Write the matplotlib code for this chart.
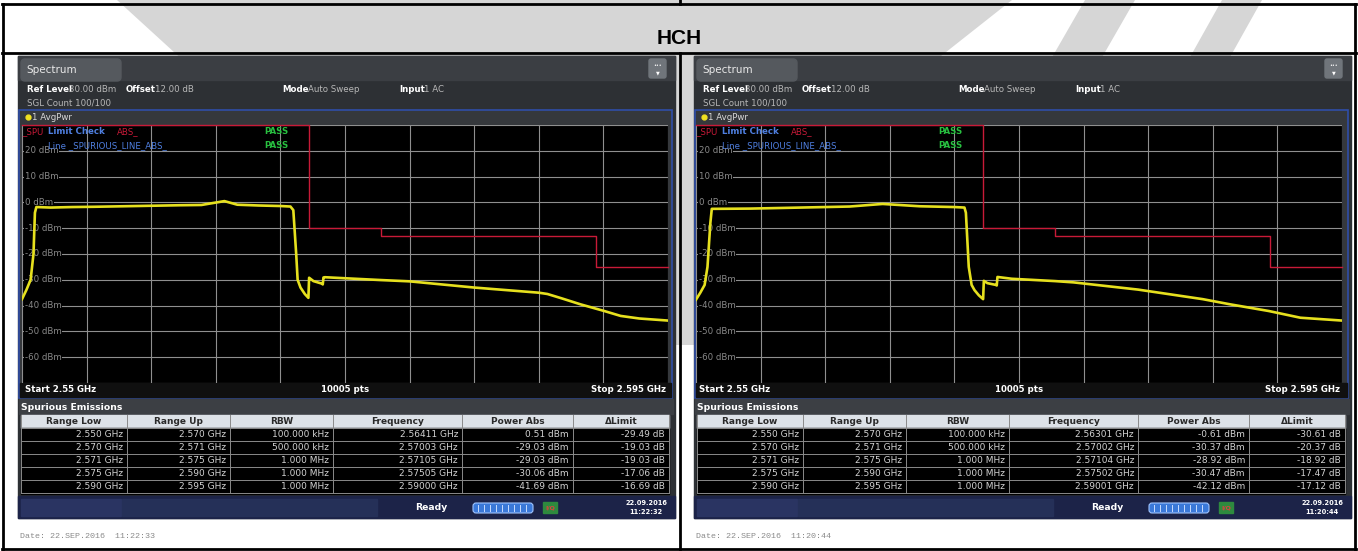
import numpy as np
import matplotlib.pyplot as plt
from matplotlib.patches import Rectangle, Polygon, FancyBboxPatch

W, H = 1358, 551

f_start, f_stop = 2.550, 2.595
ref_level, bottom_level = 30, -70

limit_freq = [2.550, 2.570, 2.575, 2.590, 2.595]
limit_level = [30, -10, -13, -25, -25]

freq_left = [2.5500, 2.5503, 2.5506, 2.5508, 2.5509, 2.5510, 2.5520, 2.5535, 2.5550,
             2.5570, 2.5590, 2.5610, 2.5625, 2.5641, 2.5650, 2.5665, 2.5680, 2.5687,
             2.5689, 2.5691, 2.5692, 2.5694, 2.5697, 2.56995, 2.5700, 2.5703, 2.5709,
             2.57095, 2.5710, 2.5711, 2.5725, 2.5750, 2.5770, 2.5815, 2.5860, 2.5866,
             2.5876, 2.5889, 2.5905, 2.5917, 2.5930, 2.5950]
level_left = [-37.5, -34, -30, -20, -4, -1.8, -2.0, -1.8, -1.7,
              -1.5, -1.3, -1.1, -1.0, 0.5, -0.9, -1.2, -1.4, -1.6,
              -3, -20, -30, -33, -35.5, -37, -29.2, -30.5, -31.5,
              -31.8, -29.1, -29.0, -29.4, -30.1, -30.6, -33.0, -35.0, -35.5,
              -37.2, -39.5, -42.0, -44.0, -45.0, -45.8]

freq_right = [2.5500, 2.5503, 2.5506, 2.5508, 2.5510, 2.5511, 2.5538, 2.5573, 2.5607,
              2.5630, 2.5656, 2.5680, 2.5687, 2.5688, 2.5690, 2.5692, 2.5694, 2.5697,
              2.5700, 2.57005, 2.5703, 2.5709, 2.57095, 2.5710, 2.5720, 2.5750, 2.5763,
              2.5808, 2.5853, 2.5872, 2.5899, 2.5921, 2.5950]
level_right = [-37.7, -35, -32, -25, -8, -2.5, -2.4, -2.0, -1.6,
               -0.6, -1.5, -1.8, -2.0, -4, -25, -32, -34, -36,
               -37.5, -30.4, -31.3, -32.0, -32.2, -28.9, -29.6, -30.5, -31.0,
               -33.8, -37.5, -39.5, -42.1, -44.7, -45.8]

range_low = ['2.550 GHz', '2.570 GHz', '2.571 GHz', '2.575 GHz', '2.590 GHz']
range_up = ['2.570 GHz', '2.571 GHz', '2.575 GHz', '2.590 GHz', '2.595 GHz']
rbw = ['100.000 kHz', '500.000 kHz', '1.000 MHz', '1.000 MHz', '1.000 MHz']
peak_freq_left = ['2.56411 GHz', '2.57003 GHz', '2.57105 GHz', '2.57505 GHz', '2.59000 GHz']
power_left = ['0.51 dBm', '-29.03 dBm', '-29.03 dBm', '-30.06 dBm', '-41.69 dBm']
dlimit_left = ['-29.49 dB', '-19.03 dB', '-19.03 dB', '-17.06 dB', '-16.69 dB']
peak_freq_right = ['2.56301 GHz', '2.57002 GHz', '2.57104 GHz', '2.57502 GHz', '2.59001 GHz']
power_right = ['-0.61 dBm', '-30.37 dBm', '-28.92 dBm', '-30.47 dBm', '-42.12 dBm']
dlimit_right = ['-30.61 dB', '-20.37 dB', '-18.92 dB', '-17.47 dB', '-17.12 dB']
headers = ['Range Low', 'Range Up', 'RBW', 'Frequency', 'Power Abs', '\u0394Limit']

fig = plt.figure(figsize=(W / 100, H / 100), dpi=100)
bg = fig.add_axes([0, 0, 1, 1])
bg.set_xlim(0, W)
bg.set_ylim(H, 0)
bg.axis('off')

# watermark swoosh behind everything
wm = '#d6d6d6'
bg.add_patch(Polygon([(117, 0), (1012, 0), (860, 120), (700, 345), (640, 345), (420, 240),
                      (260, 130), (175, 53)], closed=True, color=wm, lw=0, zorder=0))
bg.add_patch(Polygon([(1085, 0), (1135, 0), (1020, 200), (970, 200)], closed=True,
                     color=wm, lw=0, zorder=0))
bg.add_patch(Polygon([(1222, 0), (1262, 0), (1150, 200), (1110, 200)], closed=True,
                     color=wm, lw=0, zorder=0))

# page frame
for y in (4, 53, 549):
    bg.plot([2, 1356], [y, y], color='black', lw=2, zorder=1)
bg.plot([3, 3], [4, 549], color='black', lw=2, zorder=1)
bg.plot([1355, 1355], [4, 549], color='black', lw=2, zorder=1)
bg.plot([680, 680], [0, 4], color='black', lw=2, zorder=1)
bg.plot([680, 680], [53, 549], color='black', lw=2, zorder=1)
bg.text(679, 38, 'HCH', fontsize=15, fontweight='bold', family='Liberation Sans',
        ha='center', va='center', zorder=2)

FS = 6.2


def panel(dx, px0, freq, level, pk_freq, pk_pow, dlim, stamp, date):
    x0, x1 = 18 + dx, 675 + dx
    z = 3
    # screen body
    bg.add_patch(Rectangle((x0, 56), x1 - x0, 462, color='#2d3034', zorder=z))
    bg.add_patch(Rectangle((x0, 56), x1 - x0, 24, color='#3b3e43', zorder=z))
    bg.add_patch(FancyBboxPatch((x0 + 3, 59), 100, 22, boxstyle='round,pad=0,rounding_size=4',
                                color='#55595e', zorder=z))
    bg.text(x0 + 8, 70, 'Spectrum', color='#e8e8e8', fontsize=7.5, va='center', zorder=z + 1)
    bg.add_patch(FancyBboxPatch((x1 - 26, 59), 17, 19, boxstyle='round,pad=0,rounding_size=2',
                                color='#70757b', zorder=z))
    bg.text(x1 - 17.5, 66, '\u2022\u2022\u2022', color='white', fontsize=3.5, ha='center',
            va='center', zorder=z + 1)
    bg.text(x1 - 17.5, 73, '\u25bc', color='white', fontsize=3.5, ha='center', va='center',
            zorder=z + 1)
    for xx, txt, bold in [(9, 'Ref Level', True), (51, '30.00 dBm', False),
                          (108, 'Offset', True), (137, '12.00 dB', False),
                          (264, 'Mode', True), (290, 'Auto Sweep', False),
                          (381, 'Input', True), (406, '1 AC', False)]:
        bg.text(x0 + xx, 89, txt, color='white' if bold else '#b8b8b8', fontsize=FS,
                fontweight='bold' if bold else 'normal', va='center', zorder=z + 1)
    bg.text(x0 + 9, 103, 'SGL Count 100/100', color='#b8b8b8', fontsize=FS, va='center',
            zorder=z + 1)
    # diagram frame
    bg.add_patch(Rectangle((x0 + 1, 110), x1 - x0 - 4, 288, facecolor='#35383c',
                           edgecolor='#2f4ea8', lw=1.2, zorder=z))
    bg.plot([x0 + 10], [117], 'o', color='#f0e020', ms=3.5, zorder=z + 1)
    bg.text(x0 + 14, 117, '1 AvgPwr', color='#d8d8d8', fontsize=FS, va='center', zorder=z + 1)
    bg.add_patch(Rectangle((x0 + 2, 383), x1 - x0 - 6, 14, color='#101010', zorder=z))
    bg.text(px0 + 3, 390, 'Start 2.55 GHz', color='white', fontsize=FS, fontweight='bold',
            va='center', zorder=z + 1)
    bg.text(px0 + 323, 390, '10005 pts', color='white', fontsize=FS, fontweight='bold',
            ha='center', va='center', zorder=z + 1)
    bg.text(px0 + 644, 390, 'Stop 2.595 GHz', color='white', fontsize=FS, fontweight='bold',
            ha='right', va='center', zorder=z + 1)

    # spectrum plot
    ax = fig.add_axes([px0 / W, 1 - 383 / H, 646 / W, 258 / H])
    ax.set_facecolor('black')
    ax.set_xlim(f_start, f_stop)
    ax.set_ylim(bottom_level, ref_level)
    ax.set_xticks(np.linspace(f_start, f_stop, 11))
    ax.set_yticks(np.arange(bottom_level, ref_level + 1, 10))
    ax.tick_params(length=0, labelbottom=False, labelleft=False)
    ax.grid(color='#8f8f8f', lw=0.8)
    for s in ax.spines.values():
        s.set_visible(False)
    for v in range(20, -61, -10):
        ax.text(f_start + 0.0002, v, f'{v} dBm', color='#8a8a8a', fontsize=FS, va='center',
                bbox=dict(facecolor='black', edgecolor='none', pad=0.5), zorder=3)
    ax.step(limit_freq, limit_level, where='post', color='#c81a38', lw=1.0, clip_on=False,
            zorder=4)
    ax.plot(freq, level, color='#e6e01e', lw=1.9, zorder=5)
    # limit check box
    ax.text(0.0, 0.975, '_SPU', transform=ax.transAxes, color='#c81a38', fontsize=FS,
            va='center', zorder=6)
    ax.text(0.04, 0.975, 'Limit Check', transform=ax.transAxes, color='#4f7fe0',
            fontsize=FS, va='center', fontweight='bold', zorder=6)
    ax.text(0.147, 0.975, 'ABS_', transform=ax.transAxes, color='#c81a38', fontsize=FS,
            va='center', zorder=6)
    ax.text(0.04, 0.92, 'Line _SPURIOUS_LINE_ABS_', transform=ax.transAxes,
            color='#4f7fe0', fontsize=FS, va='center', zorder=6)
    for yy in (0.975, 0.92):
        ax.text(0.375, yy, 'PASS', transform=ax.transAxes, color='#28c040', fontsize=FS,
                fontweight='bold', va='center', zorder=6)

    # spurious emissions table
    bg.add_patch(Rectangle((x0 + 1, 399), x1 - x0 - 3, 15, color='#3c3f44', zorder=z))
    bg.text(x0 + 3, 407, 'Spurious Emissions', color='white', fontsize=FS + 0.5,
            fontweight='bold', va='center', zorder=z + 1)
    cols = [3, 109, 212, 315, 444, 555, 651]
    bg.add_patch(Rectangle((x0 + 3, 415), 648, 13, color='#dde2e8', zorder=z))
    bg.add_patch(Rectangle((x0 + 3, 428), 648, 66, color='black', zorder=z))
    for c in cols:
        bg.plot([x0 + c, x0 + c], [415, 493], color='#8a8a8a', lw=0.7, zorder=z + 1)
    for r in range(6):
        bg.plot([x0 + 3, x0 + 651], [428 + 13 * r, 428 + 13 * r], color='#8a8a8a', lw=0.7,
                zorder=z + 1)
    for i, hd in enumerate(headers):
        bg.text(x0 + (cols[i] + cols[i + 1]) / 2, 421.5, hd, color='#2a2a2a', fontsize=FS + 0.3,
                fontweight='bold', ha='center', va='center', zorder=z + 2)
    rows = list(zip(range_low, range_up, rbw, pk_freq, pk_pow, dlim))
    for r, row in enumerate(rows):
        for i, val in enumerate(row):
            bg.text(x0 + cols[i + 1] - 4, 434.5 + 13 * r, val, color='#d2d2d2', fontsize=FS + 0.3,
                    ha='right', va='center', zorder=z + 2)

    # status bar
    bg.add_patch(Rectangle((x0, 496), x1 - x0, 22, color='#1c2348', zorder=z))
    bg.add_patch(Rectangle((x0 + 3, 499), 100, 17, color='#2a3462', zorder=z))
    bg.add_patch(Rectangle((x0 + 104, 499), 255, 17, color='#253058', zorder=z))
    bg.text(x0 + 413, 508, 'Ready', color='white', fontsize=FS + 0.5, fontweight='bold',
            ha='center', va='center', zorder=z + 1)
    bg.add_patch(FancyBboxPatch((x0 + 455, 503), 60, 10, boxstyle='round,pad=0,rounding_size=3',
                                facecolor='#3a78d8', edgecolor='#9fc4ff', lw=0.8, zorder=z + 1))
    for k in range(9):
        bg.plot([x0 + 460 + 6 * k] * 2, [505, 511], color='#c8dcff', lw=0.7, zorder=z + 2)
    bg.add_patch(Rectangle((x0 + 525, 502), 14, 11, color='#2e8a3e', zorder=z + 1))
    bg.text(x0 + 532, 507.5, 'I/Q', color='#e04040', fontsize=4.5, fontweight='bold',
            ha='center', va='center', zorder=z + 2)
    bg.text(x0 + 628, 503, '22.09.2016', color='white', fontsize=4.8, fontweight='bold',
            ha='center', va='center', zorder=z + 1)
    bg.text(x0 + 628, 512, stamp, color='white', fontsize=4.8, fontweight='bold',
            ha='center', va='center', zorder=z + 1)
    bg.text(x0 + 2, 536, 'Date: 22.SEP.2016  ' + date, color='#8a8a8a', fontsize=6,
            family='Liberation Mono', va='center', zorder=z + 1)


panel(0, 22, freq_left, level_left, peak_freq_left, power_left, dlimit_left,
      '11:22:32', '11:22:33')
panel(676, 696, freq_right, level_right, peak_freq_right, power_right, dlimit_right,
      '11:20:44', '11:20:44')

fig.savefig('out.png', dpi=100)
